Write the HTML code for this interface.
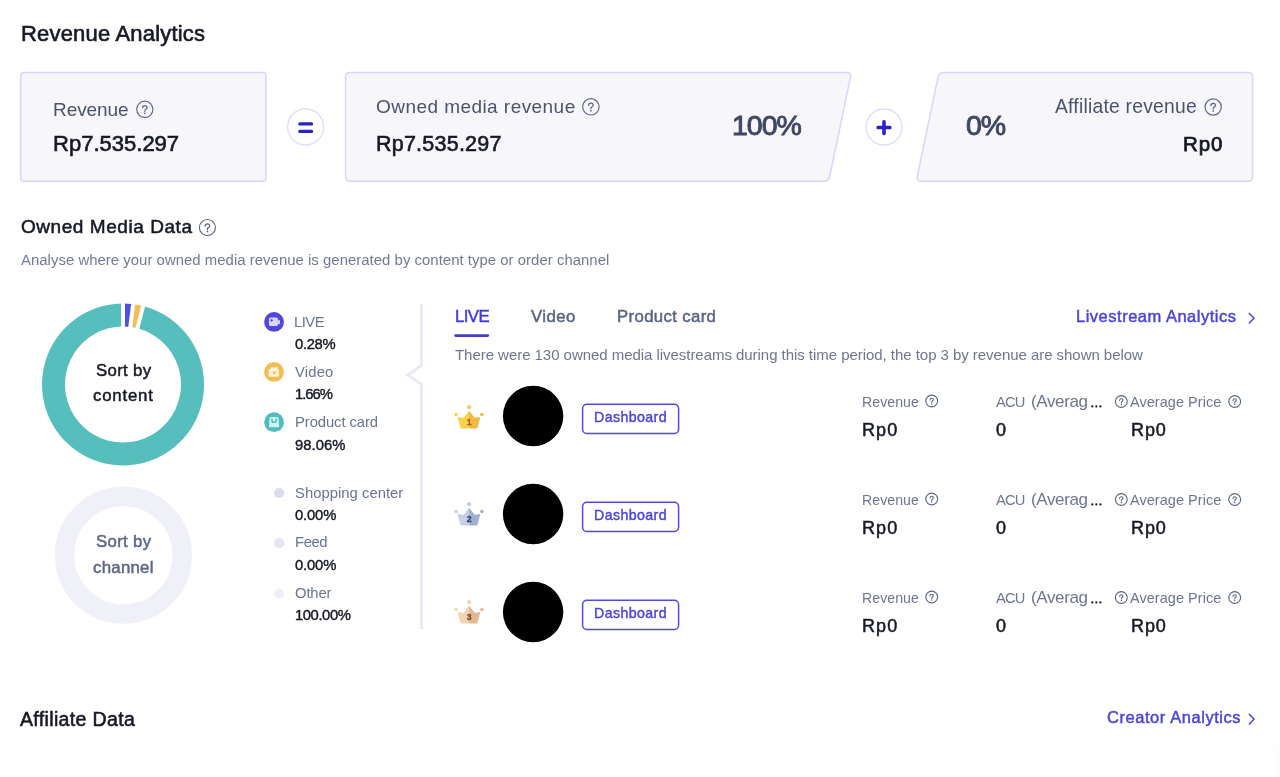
<!DOCTYPE html>
<html><head><meta charset="utf-8"><style>
html,body{margin:0;padding:0;background:#fff;}
body{width:1280px;height:777px;overflow:hidden;position:relative;font-family:"Liberation Sans",sans-serif;}
.t{position:absolute;white-space:nowrap;will-change:transform;}
svg{position:absolute;left:0;top:0;will-change:transform;}
</style></head><body>
<div style="position:absolute;left:1290px;top:735px;width:60px;height:120px;border-radius:30px;background:#fff;box-shadow:0 0 30px rgba(20,20,60,0.07);"></div>
<svg width="1280" height="777" viewBox="0 0 1280 777"><path d="M20.80 75.60 Q20.80 72.60 23.80 72.60L262.90 72.60 Q265.90 72.60 265.90 75.60L265.90 178.20 Q265.90 181.20 262.90 181.20L23.80 181.20 Q20.80 181.20 20.80 178.20Z" fill="#f6f6fb" stroke="#d8d7f8" stroke-width="1.5"/><path d="M345.60 77.10 Q345.60 72.60 350.10 72.60L846.90 72.60 Q851.40 72.60 850.48 77.00L829.62 176.80 Q828.70 181.20 824.20 181.20L350.10 181.20 Q345.60 181.20 345.60 176.70Z" fill="#f6f6fb" stroke="#d8d7f8" stroke-width="1.5"/><path d="M938.08 77.00 Q939.00 72.60 943.50 72.60L1248.10 72.60 Q1252.60 72.60 1252.60 77.10L1252.60 176.70 Q1252.60 181.20 1248.10 181.20L920.80 181.20 Q916.30 181.20 917.22 176.80Z" fill="#f6f6fb" stroke="#d8d7f8" stroke-width="1.5"/><circle cx="305.6" cy="127" r="18" fill="#fff" stroke="#dfdefb" stroke-width="1.4"/><circle cx="884.0" cy="127" r="18" fill="#fff" stroke="#dfdefb" stroke-width="1.4"/><rect x="298.2" y="122.2" width="15" height="3.3" rx="1.6" fill="#2b22c4"/><rect x="298.2" y="129.7" width="15" height="3.3" rx="1.6" fill="#2b22c4"/><rect x="876.4" y="125.75" width="15.2" height="3.6" rx="1.7" fill="#2b22c4"/><rect x="882.2" y="120.1" width="3.6" height="15.2" rx="1.7" fill="#2b22c4"/><circle cx="144.80" cy="109.30" r="8.12" fill="none" stroke="#5d6585" stroke-width="1.15"/><path d="M142.55 107.85 C142.55 106.40 143.60 105.65 144.80 105.65 C146.10 105.65 147.10 106.45 147.10 107.70 C147.10 109.10 144.85 109.40 144.85 110.50 L144.85 111.30" fill="none" stroke="#5d6585" stroke-width="1.25" stroke-linecap="round" stroke-linejoin="round"/><circle cx="144.85" cy="113.30" r="0.85" fill="#5d6585"/><circle cx="590.90" cy="106.80" r="8.23" fill="none" stroke="#5d6585" stroke-width="1.15"/><path d="M588.62 105.33 C588.62 103.87 589.69 103.11 590.90 103.11 C592.21 103.11 593.23 103.92 593.23 105.18 C593.23 106.60 590.95 106.90 590.95 108.01 L590.95 108.82" fill="none" stroke="#5d6585" stroke-width="1.26" stroke-linecap="round" stroke-linejoin="round"/><circle cx="590.95" cy="110.85" r="0.86" fill="#5d6585"/><circle cx="1213.20" cy="107.00" r="8.12" fill="none" stroke="#5d6585" stroke-width="1.15"/><path d="M1210.95 105.55 C1210.95 104.10 1212.00 103.35 1213.20 103.35 C1214.50 103.35 1215.50 104.15 1215.50 105.40 C1215.50 106.80 1213.25 107.10 1213.25 108.20 L1213.25 109.00" fill="none" stroke="#5d6585" stroke-width="1.25" stroke-linecap="round" stroke-linejoin="round"/><circle cx="1213.25" cy="111.00" r="0.85" fill="#5d6585"/><circle cx="207.40" cy="227.50" r="8.03" fill="none" stroke="#5d6585" stroke-width="1.15"/><path d="M205.18 226.07 C205.18 224.63 206.21 223.89 207.40 223.89 C208.69 223.89 209.67 224.68 209.67 225.92 C209.67 227.30 207.45 227.60 207.45 228.69 L207.45 229.48" fill="none" stroke="#5d6585" stroke-width="1.24" stroke-linecap="round" stroke-linejoin="round"/><circle cx="207.45" cy="231.45" r="0.84" fill="#5d6585"/><circle cx="931.70" cy="401.00" r="5.92" fill="none" stroke="#5d6585" stroke-width="1.15"/><path d="M930.02 399.92 C930.02 398.83 930.80 398.27 931.70 398.27 C932.67 398.27 933.42 398.87 933.42 399.80 C933.42 400.85 931.74 401.07 931.74 401.90 L931.74 402.49" fill="none" stroke="#5d6585" stroke-width="1.06" stroke-linecap="round" stroke-linejoin="round"/><circle cx="931.74" cy="403.99" r="0.72" fill="#5d6585"/><circle cx="1121.30" cy="401.50" r="5.92" fill="none" stroke="#5d6585" stroke-width="1.15"/><path d="M1119.62 400.42 C1119.62 399.33 1120.40 398.77 1121.30 398.77 C1122.27 398.77 1123.02 399.37 1123.02 400.30 C1123.02 401.35 1121.34 401.57 1121.34 402.40 L1121.34 402.99" fill="none" stroke="#5d6585" stroke-width="1.06" stroke-linecap="round" stroke-linejoin="round"/><circle cx="1121.34" cy="404.49" r="0.72" fill="#5d6585"/><circle cx="1092.30" cy="406.40" r="1.1" fill="#161823"/><circle cx="1096.35" cy="406.40" r="1.1" fill="#161823"/><circle cx="1100.40" cy="406.40" r="1.1" fill="#161823"/><circle cx="1234.70" cy="401.50" r="5.92" fill="none" stroke="#5d6585" stroke-width="1.15"/><path d="M1233.02 400.42 C1233.02 399.33 1233.80 398.77 1234.70 398.77 C1235.67 398.77 1236.42 399.37 1236.42 400.30 C1236.42 401.35 1234.74 401.57 1234.74 402.40 L1234.74 402.99" fill="none" stroke="#5d6585" stroke-width="1.06" stroke-linecap="round" stroke-linejoin="round"/><circle cx="1234.74" cy="404.49" r="0.72" fill="#5d6585"/><circle cx="931.70" cy="499.00" r="5.92" fill="none" stroke="#5d6585" stroke-width="1.15"/><path d="M930.02 497.92 C930.02 496.83 930.80 496.27 931.70 496.27 C932.67 496.27 933.42 496.87 933.42 497.80 C933.42 498.85 931.74 499.07 931.74 499.90 L931.74 500.49" fill="none" stroke="#5d6585" stroke-width="1.06" stroke-linecap="round" stroke-linejoin="round"/><circle cx="931.74" cy="501.99" r="0.72" fill="#5d6585"/><circle cx="1121.30" cy="499.50" r="5.92" fill="none" stroke="#5d6585" stroke-width="1.15"/><path d="M1119.62 498.42 C1119.62 497.33 1120.40 496.77 1121.30 496.77 C1122.27 496.77 1123.02 497.37 1123.02 498.30 C1123.02 499.35 1121.34 499.57 1121.34 500.40 L1121.34 500.99" fill="none" stroke="#5d6585" stroke-width="1.06" stroke-linecap="round" stroke-linejoin="round"/><circle cx="1121.34" cy="502.49" r="0.72" fill="#5d6585"/><circle cx="1092.30" cy="504.40" r="1.1" fill="#161823"/><circle cx="1096.35" cy="504.40" r="1.1" fill="#161823"/><circle cx="1100.40" cy="504.40" r="1.1" fill="#161823"/><circle cx="1234.70" cy="499.50" r="5.92" fill="none" stroke="#5d6585" stroke-width="1.15"/><path d="M1233.02 498.42 C1233.02 497.33 1233.80 496.77 1234.70 496.77 C1235.67 496.77 1236.42 497.37 1236.42 498.30 C1236.42 499.35 1234.74 499.57 1234.74 500.40 L1234.74 500.99" fill="none" stroke="#5d6585" stroke-width="1.06" stroke-linecap="round" stroke-linejoin="round"/><circle cx="1234.74" cy="502.49" r="0.72" fill="#5d6585"/><circle cx="931.70" cy="597.00" r="5.92" fill="none" stroke="#5d6585" stroke-width="1.15"/><path d="M930.02 595.92 C930.02 594.83 930.80 594.27 931.70 594.27 C932.67 594.27 933.42 594.87 933.42 595.80 C933.42 596.85 931.74 597.07 931.74 597.90 L931.74 598.49" fill="none" stroke="#5d6585" stroke-width="1.06" stroke-linecap="round" stroke-linejoin="round"/><circle cx="931.74" cy="599.99" r="0.72" fill="#5d6585"/><circle cx="1121.30" cy="597.50" r="5.92" fill="none" stroke="#5d6585" stroke-width="1.15"/><path d="M1119.62 596.42 C1119.62 595.33 1120.40 594.77 1121.30 594.77 C1122.27 594.77 1123.02 595.37 1123.02 596.30 C1123.02 597.35 1121.34 597.57 1121.34 598.40 L1121.34 598.99" fill="none" stroke="#5d6585" stroke-width="1.06" stroke-linecap="round" stroke-linejoin="round"/><circle cx="1121.34" cy="600.49" r="0.72" fill="#5d6585"/><circle cx="1092.30" cy="602.40" r="1.1" fill="#161823"/><circle cx="1096.35" cy="602.40" r="1.1" fill="#161823"/><circle cx="1100.40" cy="602.40" r="1.1" fill="#161823"/><circle cx="1234.70" cy="597.50" r="5.92" fill="none" stroke="#5d6585" stroke-width="1.15"/><path d="M1233.02 596.42 C1233.02 595.33 1233.80 594.77 1234.70 594.77 C1235.67 594.77 1236.42 595.37 1236.42 596.30 C1236.42 597.35 1234.74 597.57 1234.74 598.40 L1234.74 598.99" fill="none" stroke="#5d6585" stroke-width="1.06" stroke-linecap="round" stroke-linejoin="round"/><circle cx="1234.74" cy="600.49" r="0.72" fill="#5d6585"/><path d="M143.14 306.04 A81.00 81.00 0 1 1 123.00 303.50 L123.00 326.50 A58.00 58.00 0 1 0 137.42 328.32 Z" fill="#57bebe"/><path d="M123.00 303.50 A81.00 81.00 0 0 1 133.15 304.14 L130.27 326.96 A58.00 58.00 0 0 0 123.00 326.50 Z" fill="#5050e0"/><path d="M133.15 304.14 A81.00 81.00 0 0 1 143.14 306.04 L137.42 328.32 A58.00 58.00 0 0 0 130.27 326.96 Z" fill="#f2be55"/><line x1="123.00" y1="334.50" x2="123.00" y2="294.50" stroke="#fff" stroke-width="4"/><line x1="129.27" y1="334.89" x2="134.28" y2="295.21" stroke="#fff" stroke-width="4"/><line x1="135.43" y1="336.07" x2="145.38" y2="297.33" stroke="#fff" stroke-width="4"/><circle cx="123.4" cy="555.3" r="58.8" fill="none" stroke="#f0f1f8" stroke-width="19.5"/><circle cx="274.05" cy="321.95" r="9.9" fill="#4f47de"/><rect x="268.95" y="317.4" width="8.95" height="8.7" rx="1.5" fill="#d9d7fb"/><path d="M277.5 320.9 L279.9 319.4 L279.9 324.3 L277.5 323.7 Z" fill="#d9d7fb"/><circle cx="271.6" cy="320.3" r="1.15" fill="#3b33cf"/><circle cx="274.05" cy="371.95" r="9.9" fill="#f4bd4f"/><path d="M268.6 370.2 Q268.6 369 269.8 369 L270.7 369 L270.9 367.1 L272.2 367.1 Q274.1 368.5 276 367.1 L277.3 367.1 L277.5 369 L277.9 369 Q279.1 369 279.1 370.2 L279.1 375.6 Q279.1 376.8 277.9 376.8 L269.8 376.8 Q268.6 376.8 268.6 375.6 Z" fill="#fdf2dc"/><path d="M273.1 370.9 L276.3 372.8 L273.1 374.7 Z" fill="#f4bd4f"/><circle cx="274.05" cy="422.2" r="9.9" fill="#52bcbc"/><path d="M270.9 416.95 L277.2 416.95 Q278.4 416.95 278.5 418.1 L279.1 426.1 Q279.2 427.3 278 427.3 L270.1 427.3 Q268.9 427.3 269 426.1 L269.6 418.1 Q269.7 416.95 270.9 416.95 Z" fill="#cdf4f6"/><path d="M271.95 419.1 L271.95 420.2 Q271.95 422.3 274.05 422.3 Q276.15 422.3 276.15 420.2 L276.15 419.1" fill="none" stroke="#52bcbc" stroke-width="1.5" stroke-linecap="round"/><circle cx="279.2" cy="493.0" r="5.1" fill="#d9dcec"/><circle cx="279.2" cy="543.2" r="5.1" fill="#e4e6f1"/><circle cx="279.2" cy="593.7" r="5.1" fill="#eef0f7"/><path d="M421.4 304 L421.4 365.5 L407.8 375 L421.4 384.3 L421.4 629" fill="none" stroke="#e9eaf3" stroke-width="3"/><rect x="454.3" y="334.3" width="34.8" height="2.6" rx="1.3" fill="#3f3bd9"/><path d="M1249.3 313.4 L1254 318.2 L1249.3 323" fill="none" stroke="#4a43dc" stroke-width="1.5" stroke-linecap="round" stroke-linejoin="miter"/><path d="M1249.3 714.3 L1254 719.2 L1249.3 724" fill="none" stroke="#4a43dc" stroke-width="1.5" stroke-linecap="round" stroke-linejoin="miter"/><path d="M457.40 417.00 L463.80 417.80 L469.10 410.70 L469.10 428.60 L460.70 428.60 Z" fill="#f9d24a"/><path d="M469.10 410.70 L474.70 417.80 L480.40 417.00 L477.20 428.60 L469.10 428.60 Z" fill="#f3b83d"/><circle cx="469.1" cy="407.20" r="2.1" fill="#f9d24a"/><circle cx="456.1" cy="414.50" r="1.8" fill="#f9d24a"/><circle cx="481.9" cy="414.50" r="1.8" fill="#f3b83d"/><text x="469.1" y="425.00" font-size="8.6" font-weight="700" text-anchor="middle" fill="#a4661e" stroke="#a4661e" stroke-width="0.3" font-family="Liberation Sans">1</text><path d="M457.40 514.00 L463.80 514.80 L469.10 507.70 L469.10 525.60 L460.70 525.60 Z" fill="#c5d0e4"/><path d="M469.10 507.70 L474.70 514.80 L480.40 514.00 L477.20 525.60 L469.10 525.60 Z" fill="#a0b1d0"/><circle cx="469.1" cy="504.20" r="2.1" fill="#c5d0e4"/><circle cx="456.1" cy="511.50" r="1.8" fill="#c5d0e4"/><circle cx="481.9" cy="511.50" r="1.8" fill="#a0b1d0"/><text x="469.1" y="522.00" font-size="8.6" font-weight="700" text-anchor="middle" fill="#2f4470" stroke="#2f4470" stroke-width="0.3" font-family="Liberation Sans">2</text><path d="M457.40 612.00 L463.80 612.80 L469.10 605.70 L469.10 623.60 L460.70 623.60 Z" fill="#f3d4b4"/><path d="M469.10 605.70 L474.70 612.80 L480.40 612.00 L477.20 623.60 L469.10 623.60 Z" fill="#e3b993"/><circle cx="469.1" cy="602.20" r="2.1" fill="#f3d4b4"/><circle cx="456.1" cy="609.50" r="1.8" fill="#f3d4b4"/><circle cx="481.9" cy="609.50" r="1.8" fill="#e3b993"/><text x="469.1" y="620.00" font-size="8.6" font-weight="700" text-anchor="middle" fill="#7a4a2a" stroke="#7a4a2a" stroke-width="0.3" font-family="Liberation Sans">3</text><circle cx="533.1" cy="416.0" r="30.2" fill="#000"/><rect x="582.6" y="404.2" width="96" height="29.4" rx="4.3" fill="#fff" stroke="#524adf" stroke-width="1.5"/><circle cx="533.1" cy="514.0" r="30.2" fill="#000"/><rect x="582.6" y="502.2" width="96" height="29.4" rx="4.3" fill="#fff" stroke="#524adf" stroke-width="1.5"/><circle cx="533.1" cy="612.0" r="30.2" fill="#000"/><rect x="582.6" y="600.2" width="96" height="29.4" rx="4.3" fill="#fff" stroke="#524adf" stroke-width="1.5"/></svg>
<div class="t" id="title" style="left:21.00px;top:22.78px;font-size:22.00px;line-height:22.00px;font-weight:400;color:#161823;letter-spacing:0.188px;-webkit-text-stroke:0.62px #161823;">Revenue Analytics</div><div class="t" id="c1l" style="left:53.30px;top:99.52px;font-size:19.00px;line-height:19.00px;font-weight:400;color:#4b526c;letter-spacing:-0.076px;">Revenue</div><div class="t" id="c1v" style="left:53.30px;top:132.68px;font-size:22.00px;line-height:22.00px;font-weight:400;color:#161823;letter-spacing:0.011px;-webkit-text-stroke:0.62px #161823;">Rp7.535.297</div><div class="t" id="c2l" style="left:375.80px;top:96.92px;font-size:19.00px;line-height:19.00px;font-weight:400;color:#4b526c;letter-spacing:0.446px;">Owned media revenue</div><div class="t" id="c2v" style="left:375.80px;top:133.80px;font-size:21.50px;line-height:21.50px;font-weight:400;color:#161823;letter-spacing:0.227px;-webkit-text-stroke:0.60px #161823;">Rp7.535.297</div><div class="t" id="p100" style="left:731.52px;top:111.07px;font-size:28.50px;line-height:28.50px;font-weight:400;color:#3f4765;letter-spacing:-1.000px;-webkit-text-stroke:0.95px #3f4765;">100%</div><div class="t" id="p0" style="left:966.01px;top:111.07px;font-size:28.50px;line-height:28.50px;font-weight:400;color:#3f4765;letter-spacing:-1.000px;-webkit-text-stroke:0.95px #3f4765;">0%</div><div class="t" id="c3l" style="left:1055.40px;top:96.66px;font-size:19.30px;line-height:19.30px;font-weight:400;color:#4b526c;letter-spacing:0.234px;">Affiliate revenue</div><div class="t" id="c3v" style="left:1183.00px;top:134.35px;font-size:20.50px;line-height:20.50px;font-weight:400;color:#161823;letter-spacing:0.902px;-webkit-text-stroke:0.75px #161823;">Rp0</div><div class="t" id="omd" style="left:20.70px;top:217.42px;font-size:19.00px;line-height:19.00px;font-weight:400;color:#161823;letter-spacing:0.556px;-webkit-text-stroke:0.53px #161823;">Owned Media Data</div><div class="t" id="sub" style="left:20.70px;top:252.69px;font-size:14.90px;line-height:14.90px;font-weight:400;color:#737a96;letter-spacing:0.037px;">Analyse where your owned media revenue is generated by content type or order channel</div><div class="t" id="sb1" style="left:95.60px;top:363.28px;font-size:16.80px;line-height:16.80px;font-weight:400;color:#161823;letter-spacing:0.313px;-webkit-text-stroke:0.47px #161823;">Sort by</div><div class="t" id="sb2" style="left:93.30px;top:388.28px;font-size:16.80px;line-height:16.80px;font-weight:400;color:#161823;letter-spacing:0.799px;-webkit-text-stroke:0.47px #161823;">content</div><div class="t" id="sc1" style="left:95.60px;top:533.78px;font-size:16.80px;line-height:16.80px;font-weight:400;color:#5d6585;letter-spacing:0.313px;-webkit-text-stroke:0.47px #5d6585;">Sort by</div><div class="t" id="sc2" style="left:93.10px;top:560.18px;font-size:16.80px;line-height:16.80px;font-weight:400;color:#5d6585;letter-spacing:0.275px;-webkit-text-stroke:0.47px #5d6585;">channel</div><div class="t" id="lg0a" style="left:293.81px;top:314.57px;font-size:14.80px;line-height:14.80px;font-weight:400;color:#6b7394;letter-spacing:-0.500px;">LIVE</div><div class="t" id="lg0b" style="left:294.90px;top:337.27px;font-size:14.80px;line-height:14.80px;font-weight:400;color:#161823;letter-spacing:-0.339px;-webkit-text-stroke:0.41px #161823;">0.28%</div><div class="t" id="lg1a" style="left:294.90px;top:365.17px;font-size:14.80px;line-height:14.80px;font-weight:400;color:#6b7394;letter-spacing:0.177px;">Video</div><div class="t" id="lg1b" style="left:294.90px;top:387.47px;font-size:14.80px;line-height:14.80px;font-weight:400;color:#161823;letter-spacing:-1.039px;-webkit-text-stroke:0.41px #161823;">1.66%</div><div class="t" id="lg2a" style="left:294.90px;top:415.07px;font-size:14.80px;line-height:14.80px;font-weight:400;color:#6b7394;letter-spacing:-0.073px;">Product card</div><div class="t" id="lg2b" style="left:294.90px;top:438.07px;font-size:14.80px;line-height:14.80px;font-weight:400;color:#161823;letter-spacing:0.020px;-webkit-text-stroke:0.41px #161823;">98.06%</div><div class="t" id="lg3a" style="left:294.90px;top:485.77px;font-size:14.80px;line-height:14.80px;font-weight:400;color:#6b7394;letter-spacing:0.037px;">Shopping center</div><div class="t" id="lg3b" style="left:294.90px;top:508.47px;font-size:14.80px;line-height:14.80px;font-weight:400;color:#161823;letter-spacing:-0.164px;-webkit-text-stroke:0.41px #161823;">0.00%</div><div class="t" id="lg4a" style="left:294.90px;top:535.27px;font-size:14.80px;line-height:14.80px;font-weight:400;color:#6b7394;letter-spacing:-0.410px;">Feed</div><div class="t" id="lg4b" style="left:294.90px;top:558.27px;font-size:14.80px;line-height:14.80px;font-weight:400;color:#161823;letter-spacing:-0.164px;-webkit-text-stroke:0.41px #161823;">0.00%</div><div class="t" id="lg5a" style="left:294.90px;top:585.77px;font-size:14.80px;line-height:14.80px;font-weight:400;color:#6b7394;letter-spacing:-0.129px;">Other</div><div class="t" id="lg5b" style="left:294.90px;top:608.07px;font-size:14.80px;line-height:14.80px;font-weight:400;color:#161823;letter-spacing:-0.422px;-webkit-text-stroke:0.41px #161823;">100.00%</div><div class="t" id="tab1" style="left:454.59px;top:308.68px;font-size:16.80px;line-height:16.80px;font-weight:400;color:#3f3bd9;letter-spacing:-0.600px;-webkit-text-stroke:0.47px #3f3bd9;">LIVE</div><div class="t" id="tab2" style="left:530.90px;top:308.68px;font-size:16.80px;line-height:16.80px;font-weight:400;color:#5a6384;letter-spacing:0.457px;-webkit-text-stroke:0.47px #5a6384;">Video</div><div class="t" id="tab3" style="left:617.00px;top:308.68px;font-size:16.80px;line-height:16.80px;font-weight:400;color:#5a6384;letter-spacing:0.342px;-webkit-text-stroke:0.47px #5a6384;">Product card</div><div class="t" id="desc" style="left:454.70px;top:347.10px;font-size:15.00px;line-height:15.00px;font-weight:400;color:#6e7592;letter-spacing:-0.042px;">There were 130 owned media livestreams during this time period, the top 3 by revenue are shown below</div><div class="t" id="lsa" style="left:1075.60px;top:308.43px;font-size:16.50px;line-height:16.50px;font-weight:400;color:#4a43dc;letter-spacing:0.505px;-webkit-text-stroke:0.46px #4a43dc;">Livestream Analytics</div><div class="t" id="db0" style="left:594.20px;top:410.18px;font-size:14.20px;line-height:14.20px;font-weight:400;color:#4a43dc;letter-spacing:0.404px;-webkit-text-stroke:0.40px #4a43dc;">Dashboard</div><div class="t" id="rl0" style="left:861.90px;top:395.16px;font-size:14.10px;line-height:14.10px;font-weight:400;color:#6e7592;letter-spacing:0.068px;">Revenue</div><div class="t" id="rv0" style="left:862.25px;top:420.76px;font-size:18.00px;line-height:18.00px;font-weight:400;color:#161823;letter-spacing:1.119px;-webkit-text-stroke:0.50px #161823;">Rp0</div><div class="t" id="al0" style="left:995.80px;top:394.86px;font-size:14.70px;line-height:14.70px;font-weight:400;color:#6e7592;letter-spacing:-0.866px;">ACU</div><div class="t" id="am0" style="left:1031.40px;top:392.91px;font-size:17.00px;line-height:17.00px;font-weight:400;color:#6e7592;letter-spacing:-0.368px;">(Averag</div><div class="t" id="av0" style="left:996.00px;top:420.76px;font-size:18.00px;line-height:18.00px;font-weight:400;color:#161823;letter-spacing:0.000px;-webkit-text-stroke:0.50px #161823;">0</div><div class="t" id="pl0" style="left:1130.40px;top:395.13px;font-size:14.50px;line-height:14.50px;font-weight:400;color:#6e7592;letter-spacing:0.041px;">Average Price</div><div class="t" id="pv0" style="left:1130.60px;top:420.76px;font-size:18.00px;line-height:18.00px;font-weight:400;color:#161823;letter-spacing:0.894px;-webkit-text-stroke:0.50px #161823;">Rp0</div><div class="t" id="db1" style="left:594.20px;top:508.18px;font-size:14.20px;line-height:14.20px;font-weight:400;color:#4a43dc;letter-spacing:0.404px;-webkit-text-stroke:0.40px #4a43dc;">Dashboard</div><div class="t" id="rl1" style="left:861.90px;top:493.16px;font-size:14.10px;line-height:14.10px;font-weight:400;color:#6e7592;letter-spacing:0.068px;">Revenue</div><div class="t" id="rv1" style="left:862.25px;top:518.76px;font-size:18.00px;line-height:18.00px;font-weight:400;color:#161823;letter-spacing:1.119px;-webkit-text-stroke:0.50px #161823;">Rp0</div><div class="t" id="al1" style="left:995.80px;top:492.86px;font-size:14.70px;line-height:14.70px;font-weight:400;color:#6e7592;letter-spacing:-0.866px;">ACU</div><div class="t" id="am1" style="left:1031.40px;top:490.91px;font-size:17.00px;line-height:17.00px;font-weight:400;color:#6e7592;letter-spacing:-0.368px;">(Averag</div><div class="t" id="av1" style="left:996.00px;top:518.76px;font-size:18.00px;line-height:18.00px;font-weight:400;color:#161823;letter-spacing:0.000px;-webkit-text-stroke:0.50px #161823;">0</div><div class="t" id="pl1" style="left:1130.40px;top:493.13px;font-size:14.50px;line-height:14.50px;font-weight:400;color:#6e7592;letter-spacing:0.041px;">Average Price</div><div class="t" id="pv1" style="left:1130.60px;top:518.76px;font-size:18.00px;line-height:18.00px;font-weight:400;color:#161823;letter-spacing:0.894px;-webkit-text-stroke:0.50px #161823;">Rp0</div><div class="t" id="db2" style="left:594.20px;top:606.18px;font-size:14.20px;line-height:14.20px;font-weight:400;color:#4a43dc;letter-spacing:0.404px;-webkit-text-stroke:0.40px #4a43dc;">Dashboard</div><div class="t" id="rl2" style="left:861.90px;top:591.16px;font-size:14.10px;line-height:14.10px;font-weight:400;color:#6e7592;letter-spacing:0.068px;">Revenue</div><div class="t" id="rv2" style="left:862.25px;top:616.76px;font-size:18.00px;line-height:18.00px;font-weight:400;color:#161823;letter-spacing:1.119px;-webkit-text-stroke:0.50px #161823;">Rp0</div><div class="t" id="al2" style="left:995.80px;top:590.86px;font-size:14.70px;line-height:14.70px;font-weight:400;color:#6e7592;letter-spacing:-0.866px;">ACU</div><div class="t" id="am2" style="left:1031.40px;top:588.91px;font-size:17.00px;line-height:17.00px;font-weight:400;color:#6e7592;letter-spacing:-0.368px;">(Averag</div><div class="t" id="av2" style="left:996.00px;top:616.76px;font-size:18.00px;line-height:18.00px;font-weight:400;color:#161823;letter-spacing:0.000px;-webkit-text-stroke:0.50px #161823;">0</div><div class="t" id="pl2" style="left:1130.40px;top:591.13px;font-size:14.50px;line-height:14.50px;font-weight:400;color:#6e7592;letter-spacing:0.041px;">Average Price</div><div class="t" id="pv2" style="left:1130.60px;top:616.76px;font-size:18.00px;line-height:18.00px;font-weight:400;color:#161823;letter-spacing:0.894px;-webkit-text-stroke:0.50px #161823;">Rp0</div><div class="t" id="afd" style="left:20.40px;top:710.09px;font-size:19.50px;line-height:19.50px;font-weight:400;color:#161823;letter-spacing:0.353px;-webkit-text-stroke:0.55px #161823;">Affiliate Data</div><div class="t" id="cra" style="left:1106.60px;top:709.13px;font-size:16.50px;line-height:16.50px;font-weight:400;color:#4a43dc;letter-spacing:0.555px;-webkit-text-stroke:0.46px #4a43dc;">Creator Analytics</div>
</body></html>
